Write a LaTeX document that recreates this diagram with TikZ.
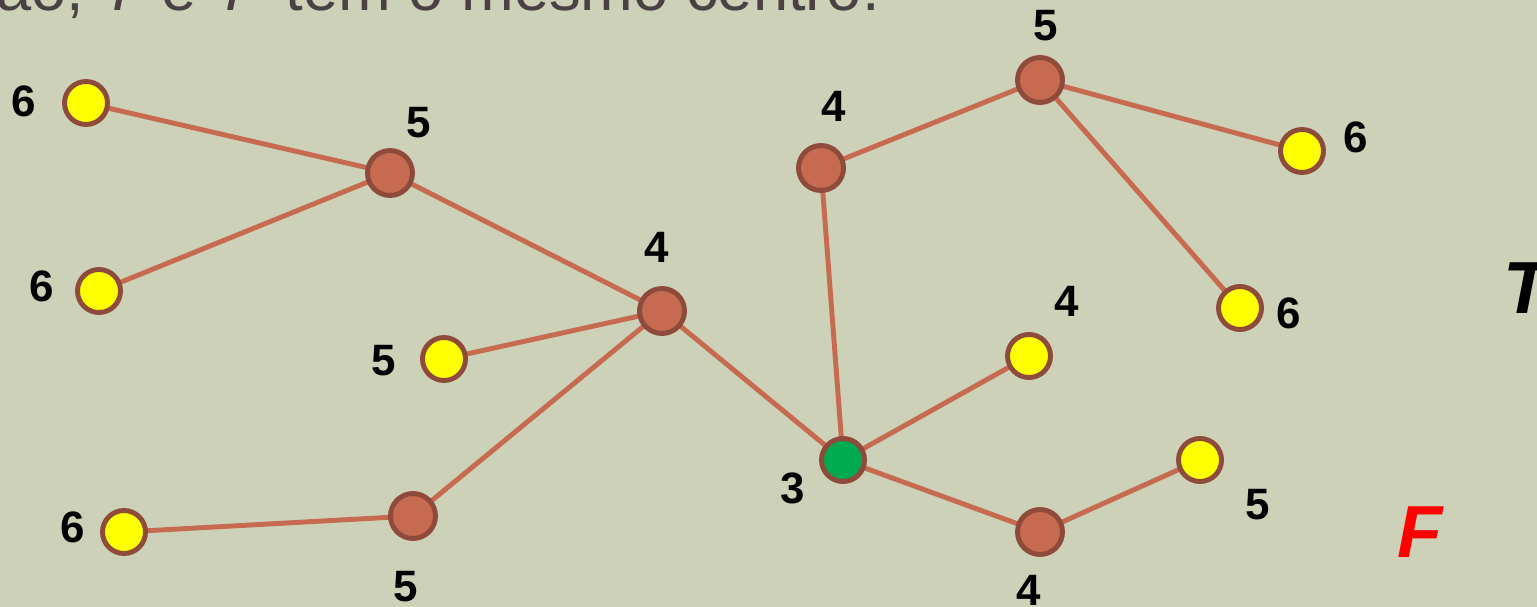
\documentclass[tikz,border=0pt]{standalone}
\usepackage{fontspec}
\setmainfont{Liberation Sans}
\usetikzlibrary{backgrounds}
\definecolor{bgcol}{HTML}{CCD1B8}
\definecolor{brick}{HTML}{C66A50}
\definecolor{brickdark}{HTML}{8E4A3A}
\definecolor{leafyel}{HTML}{FFFF00}
\definecolor{centgreen}{HTML}{00AA4F}
\definecolor{headgray}{HTML}{4A4242}

\begin{document}
\begin{tikzpicture}[x=0.02cm,y=-0.02cm,
  vtx/.style={circle,draw=brickdark,line width=2.8pt,inner sep=0pt},
  inner/.style={vtx,fill=brick,minimum size=0.9cm},
  leaf/.style={vtx,fill=leafyel,minimum size=0.86cm},
  cent/.style={vtx,fill=centgreen,minimum size=0.86cm},
  edge/.style={brick,line width=2.8pt},
  ecc/.style={font=\fontsize{25}{25}\selectfont\bfseries},
  tree/.style={font=\fontsize{42}{42}\selectfont\bfseries\itshape}]
\clip (0,0) rectangle (1537,607);
\node[anchor=base west,text=headgray,inner sep=0pt,font=\fontsize{36}{36}\selectfont] (head) at (-4,11)
  {ão, \textit{T} e \textit{T'} têm o mesmo centro.};
% vertices
\node[inner] (b1) at (390,173) {};
\node[inner] (b2) at (662,311) {};
\node[inner] (b3) at (413,516) {};
\node[inner] (b4) at (821,168) {};
\node[inner] (b5) at (1040,80) {};
\node[inner] (b6) at (1040,532) {};
\node[cent] (c) at (843,460) {};
\foreach \n/\x/\y in {y1/86/103,y2/99/291,y3/444/359,y4/124/532,
                      y5/1302/151,y6/1240/308,y7/1029/356,y8/1200/460}
  \node[leaf] (\n) at (\x,\y) {};
% edges
\begin{pgfonlayer}{background}
\fill[bgcol] (0,0) rectangle (1537,607);
\foreach \a/\b in {y1/b1,y2/b1,b1/b2,y3/b2,b3/b2,y4/b3,b2/c,b4/c,
                   b4/b5,b5/y5,b5/y6,c/y7,c/b6,b6/y8}
  \draw[edge] (\a.center) -- (\b.center);
\end{pgfonlayer}
% eccentricities
\foreach \n/\x/\y/\v in {e1/24/101/6,e2/419/123/5,e3/42/286/6,e4/657/247/4,
                         e5/384/361/5,e6/73/527/6,e7/406/587/5,e8/793/488/3,
                         e9/834/106/4,e10/1046/26/5,e11/1356/137/6,e12/1289/313/6,
                         e13/1067/301/4,e14/1258/505/5,e15/1029/590/4}
  \node[ecc] (\n) at (\x,\y) {\v};
\node[tree] (tT) at (1526,288) {T};
\node[tree,text=red] (tF) at (1420,532) {F};
\end{tikzpicture}
\end{document}
